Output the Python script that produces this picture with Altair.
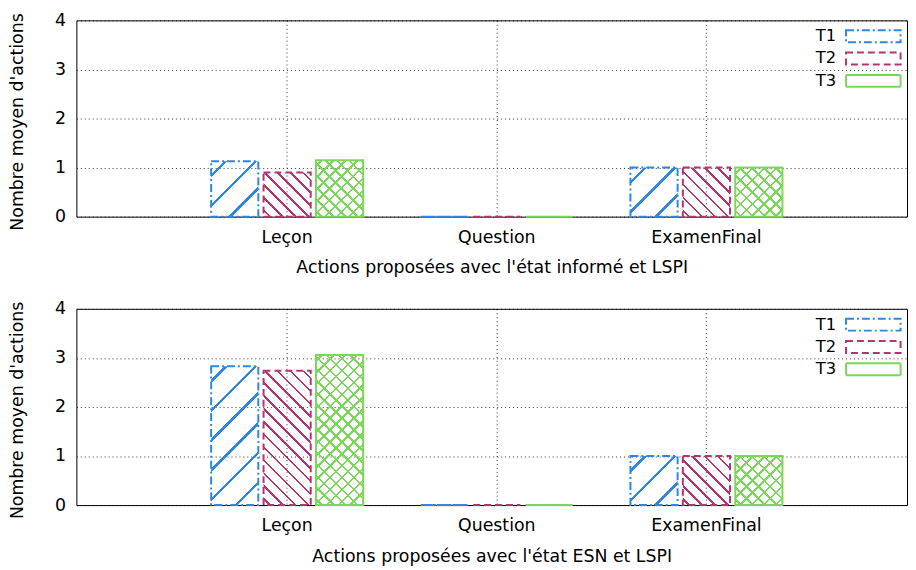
import altair as alt
import pandas as pd

# ---------------- data ----------------
categories = ["Leçon", "Question", "ExamenFinal"]
series = ["T1", "T2", "T3"]

informe_T1 = [1.13, 0.0, 1.0]
informe_T2 = [0.90, 0.0, 1.0]
informe_T3 = [1.15, 0.0, 1.0]

esn_T1 = [2.83, 0.0, 1.0]
esn_T2 = [2.74, 0.0, 1.0]
esn_T3 = [3.06, 0.0, 1.0]

x_titles = [
    "Actions proposées avec l'état informé et LSPI",
    "Actions proposées avec l'état ESN et LSPI",
]
y_title = "Nombre moyen d'actions"
y_ticks = [0, 1, 2, 3, 4]

colors = ["#2e86e3", "#b7336d", "#7ad858"]
dashes = [[8, 3, 2, 3], [7, 4], [1, 0]]

# ---------------- layout ----------------
PLOT_W = 838
PLOT_H = 198
PAD_INNER = 0.25
PAD_OUTER = 0.606
ALIGN = 0.52
OFF_PAD_INNER = 0.1
OFF_PAD_OUTER = 0.05
FONT = "DejaVu Sans"
FS = 17.5

step = PLOT_W / (len(categories) - PAD_INNER + 2 * PAD_OUTER)
band = step * (1 - PAD_INNER)
off_step = band / (len(series) - OFF_PAD_INNER + 2 * OFF_PAD_OUTER)
BAR_W = off_step * (1 - OFF_PAD_INNER)
PX_PER_UNIT = PLOT_H / 4.0

CLEAR = "rgba(255,255,255,0)"


def hatch(direction, color, period, thick, value):
    """Linear-gradient stripes (in the bar's bounding box) that mimic a hatch."""
    w = BAR_W
    h = value * PX_PER_UNIT
    if h <= 0.5:
        return CLEAR
    s = 2.0
    k = w / (s * (w * w + h * h))
    total = w + h
    stops = [{"offset": 0, "color": CLEAR}]
    c = period / 2.0
    while c - thick / 2 < total:
        a = max(0.0, (c - thick / 2) * k)
        b = min(1.0, (c + thick / 2) * k)
        stops += [
            {"offset": a, "color": CLEAR},
            {"offset": a, "color": color},
            {"offset": b, "color": color},
            {"offset": b, "color": CLEAR},
        ]
        c += period
    if direction == "/":
        return {"gradient": "linear", "x1": 0, "y1": 0, "x2": s, "y2": s * h / w, "stops": stops}
    return {"gradient": "linear", "x1": 0, "y1": 1, "x2": s, "y2": 1 - s * h / w, "stops": stops}


def panel(t1, t2, t3, xtitle):
    vals = {"T1": t1, "T2": t2, "T3": t3}
    rows = []
    for s_name in series:
        for c_name, v in zip(categories, vals[s_name]):
            rows.append({"cat": c_name, "series": s_name, "value": v})
    df = pd.DataFrame(rows)

    x = alt.X(
        "cat:N",
        sort=categories,
        scale=alt.Scale(domain=categories, paddingInner=PAD_INNER,
                        paddingOuter=PAD_OUTER, align=ALIGN),
        axis=alt.Axis(title=xtitle, labelAngle=0, bandPosition=0.5, grid=True,
                      ticks=False, domain=False, labelPadding=12, titlePadding=13),
    )
    xo = alt.XOffset("series:N", scale=alt.Scale(domain=series,
                                                 paddingInner=OFF_PAD_INNER,
                                                 paddingOuter=OFF_PAD_OUTER))
    y = alt.Y(
        "value:Q",
        scale=alt.Scale(domain=[0, 4], nice=False, zero=True),
        axis=alt.Axis(title=y_title, values=y_ticks, grid=True, ticks=False,
                      domain=False, labelPadding=11, titlePadding=28, titleY=102),
    )

    base = alt.Chart(df)

    # main hatch direction for each series
    cond1 = []
    for s_name, col in zip(series, colors):
        for c_name, v in zip(categories, vals[s_name]):
            if s_name == "T1":
                g = hatch("/", col, 30, 3.6, v)
            elif s_name == "T2":
                g = hatch("\\", col, 13, 2.6, v)
            else:
                g = hatch("/", col, 12, 2.6, v)
            cond1.append({"test": f"datum.series === '{s_name}' && datum.cat === '{c_name}'",
                          "value": g})
    fill1 = base.mark_bar(strokeWidth=0).encode(
        x=x, xOffset=xo, y=y,
        fill=alt.FillValue(value=CLEAR, condition=cond1),
    )

    # second direction for the cross-hatched series
    cond2 = []
    for c_name, v in zip(categories, vals["T3"]):
        cond2.append({"test": f"datum.cat === '{c_name}'",
                      "value": hatch("\\", colors[2], 12, 2.6, v)})
    fill2 = base.transform_filter("datum.series === 'T3'").mark_bar(strokeWidth=0).encode(
        x=x, xOffset=xo, y=y,
        fill=alt.FillValue(value=CLEAR, condition=cond2),
    )

    leg = alt.Legend(
        title=None, orient="none", legendX=793, legendY=5,
        symbolType="M-2.75,-0.6L2.75,-0.6L2.75,0.6L-2.75,0.6Z", symbolSize=400,
        symbolStrokeWidth=2, symbolFillColor="transparent",
        labelFont=FONT, labelFontSize=16.5, labelColor="black",
        labelAlign="right", labelOffset={"expr": "-48.5"},
        rowPadding=1.5, padding=0,
    )
    outline = base.mark_bar(fill="transparent", strokeWidth=2).encode(
        x=x, xOffset=xo, y=y,
        stroke=alt.Stroke("series:N", scale=alt.Scale(domain=series, range=colors), legend=leg),
        strokeDash=alt.StrokeDash("series:N", scale=alt.Scale(domain=series, range=dashes), legend=leg),
    )

    return alt.layer(fill1, fill2, outline).properties(width=PLOT_W, height=PLOT_H)


top = panel(informe_T1, informe_T2, informe_T3, x_titles[0])
bottom = panel(esn_T1, esn_T2, esn_T3, x_titles[1])

chart = (
    alt.vconcat(top, bottom, spacing=22)
    .resolve_scale(stroke="independent", strokeDash="independent")
    .resolve_legend(stroke="independent", strokeDash="independent")
    .properties(padding={"left": 0, "top": 0, "right": 0, "bottom": 0},
                background="white")
    .configure_view(stroke="black", strokeWidth=1)
    .configure_axis(
        labelFont=FONT, titleFont=FONT, labelFontSize=FS, titleFontSize=FS,
        titleFontWeight="normal", labelColor="black", titleColor="black",
        gridColor="black", gridDash=[1, 3], gridOpacity=0.8, gridWidth=1,
    )
)

chart.save("out.html", embed_options={"renderer": "svg", "actions": False})
